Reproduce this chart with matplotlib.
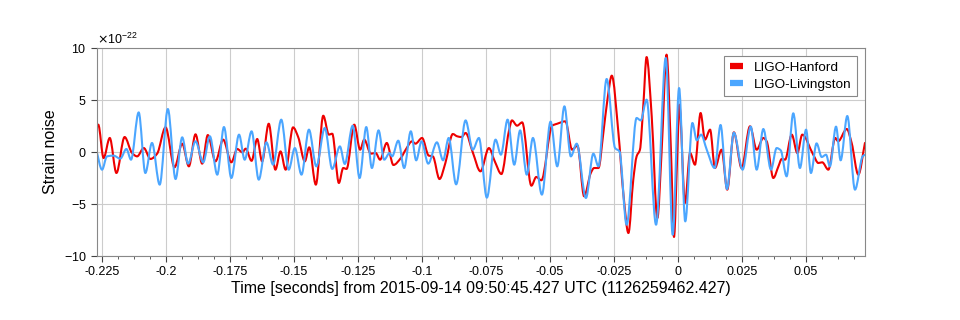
import matplotlib
matplotlib.use("Agg")
import matplotlib.pyplot as plt
from matplotlib.ticker import MultipleLocator, ScalarFormatter, FuncFormatter
from matplotlib.path import Path
from matplotlib.patches import PathPatch
from matplotlib.lines import Line2D
import numpy as np

plt.rcParams['font.family'] = ['Liberation Sans', 'DejaVu Sans']
plt.rcParams['axes.unicode_minus'] = False

# time in ms from 1126259462.427, strain in units of 1e-22
hanford_t = [-227.3, -226.5, -224.4, -222.0, -219.4, -216.2, -213.3, -211.3, -208.7, -206.1,
             -203.5, -200.2, -196.7, -193.7, -191.1, -188.5, -185.9, -183.7, -180.7, -177.7,
             -174.5, -172.2, -170.2, -168.9, -166.6, -164.4, -162.5, -159.9, -157.3, -155.3,
             -153.3, -150.4, -148.4, -145.8, -144.1, -141.5, -138.6, -136.4, -135.1, -132.5,
             -130.8, -129.5, -126.5, -124.2, -122.6, -120.0, -118.1, -116.4, -113.8, -111.2,
             -108.3, -106.4, -103.9, -102.6, -100.0, -97.4, -95.8, -93.2, -90.9, -88.0,
             -86.3, -84.6, -83.0, -80.2, -77.2, -73.9, -71.6, -69.0, -66.1, -64.9,
             -62.9, -60.9, -57.3, -55.4, -53.4, -49.2, -47.2, -44.0, -41.4, -39.3,
             -36.7, -34.1, -32.8, -31.1, -29.2, -27.6, -25.9, -23.3, -21.4, -19.4,
             -17.5, -16.2, -14.9, -13.6, -12.3, -10.3, -8.1, -6.4, -4.5, -2.8,
             -1.6, -0.3, 0.5, 2.7, 4.7, 6.6, 8.8, 10.5, 12.5, 14.4,
             17.0, 19.2, 21.8, 24.8, 28.1, 30.7, 33.3, 34.6, 37.2, 39.2,
             40.5, 41.8, 44.4, 46.6, 48.5, 52.8, 54.8, 56.3, 58.7, 61.4,
             62.5, 65.9, 67.8, 70.4, 73.0]
hanford_h = [2.53, 2.63, -0.58, 1.35, -2.02, 1.44, -0.10, -0.42, 0.38, -0.67,
             -0.16, 2.37, -1.47, 0.80, -1.38, 1.70, -1.12, 1.63, -0.90, 1.19,
             -0.99, 0.29, -0.03, 0.32, -0.85, 1.25, -0.90, 2.72, -1.70, 0.06,
             -1.70, 2.37, 1.44, -0.90, 0.45, -3.14, 3.49, 1.67, 1.76, -2.98,
             -1.54, -1.63, 2.63, 0.22, 1.19, -0.16, -0.10, -0.74, 0.87, -1.25,
             -0.58, 0.22, 1.03, 0.80, 1.35, -0.35, -0.42, -2.60, -1.06, 1.73,
             1.51, 1.44, 1.83, -0.03, -1.86, 0.38, -0.90, -2.12, 1.99, 3.04,
             2.53, 2.85, -3.24, -2.40, -2.72, 2.53, 2.72, 2.95, 0.22, 0.61,
             -4.26, -2.02, -1.54, -1.54, 1.83, 5.03, 7.34, 1.83, -3.94, -7.79,
             -2.66, -0.42, 0.22, 4.39, 9.13, 3.43, -6.35, 0.22, 9.36, 0.22,
             -8.17, -0.10, 4.55, -4.90, -0.10, -1.22, 3.75, 1.19, 2.15, -1.54,
             0.22, -3.62, 1.89, -1.54, 2.47, 0.22, 1.35, 1.03, -2.50, -1.38,
             -0.67, -0.74, 1.67, -0.10, 1.67, -0.26, -1.06, -0.99, -1.70, 1.35,
             1.03, 2.21, 0.87, -2.18, 0.87]

livingston_t = [-227.3, -225.0, -223.1, -220.5, -217.9, -215.5, -213.7, -210.7, -208.1, -205.5,
                -202.5, -199.3, -196.3, -193.7, -191.4, -188.5, -185.5, -182.9, -180.0, -177.4,
                -174.5, -171.5, -169.3, -166.6, -163.8, -160.8, -158.2, -155.0, -152.1, -149.7,
                -147.1, -144.2, -141.3, -138.0, -135.1, -132.1, -130.2, -127.1, -124.4, -121.8,
                -119.6, -117.0, -114.8, -112.7, -111.7, -109.3, -107.0, -104.4, -102.3, -100.2,
                -97.6, -94.2, -91.8, -89.6, -86.7, -83.0, -80.2, -77.8, -74.7, -71.3,
                -69.2, -66.6, -64.0, -61.7, -59.1, -56.7, -53.2, -49.8, -47.2, -44.4,
                -41.9, -39.6, -36.0, -33.1, -31.1, -27.9, -24.6, -22.9, -20.1, -16.2,
                -14.6, -12.3, -8.6, -4.8, -2.1, 0.4, 2.8, 5.6, 7.3, 9.0,
                11.2, 14.3, 16.6, 19.1, 21.8, 25.2, 28.4, 30.7, 33.3, 36.3,
                38.5, 40.1, 42.4, 45.0, 47.6, 50.0, 51.9, 54.1, 56.1, 57.8,
                59.3, 61.7, 63.5, 66.1, 69.1, 72.1, 73.0]
livingston_h = [0.22, -1.70, -0.42, -0.35, -0.64, 0.29, -0.74, 3.81, -2.02, 0.87,
                -3.14, 4.13, -2.60, 1.41, -1.12, 1.03, -1.00, 1.51, -2.18, 2.40,
                -2.50, 1.67, -0.74, 1.99, -2.66, 0.93, -1.22, 3.11, -1.70, 0.38,
                -2.18, 2.15, -1.38, 2.31, -1.63, 0.54, -1.15, 2.53, -2.50, 2.40,
                -1.54, 2.08, -0.74, -0.10, -0.42, 1.09, -1.54, 1.99, -0.80, 1.03,
                -1.12, 0.93, -0.80, 1.35, -3.11, 3.04, 0.22, 1.35, -4.39, 1.19,
                -0.26, 3.11, -1.22, 2.08, -2.18, 1.35, -4.10, 2.92, -1.38, 4.39,
                -0.42, 0.80, -4.42, -0.16, -1.38, 7.02, 0.38, 0.06, -6.99, 3.27,
                3.04, 5.03, -6.99, 9.04, -7.95, 6.15, -6.67, 2.79, 1.12, 1.67,
                0.22, -1.54, 2.60, -3.56, 1.86, -1.70, 2.44, -1.70, 2.21, -1.70,
                0.38, 0.16, -2.34, 3.72, -1.54, 2.15, -2.02, 0.83, -0.48, -0.26,
                -1.38, 2.44, -0.80, 3.46, -3.62, -0.42, -0.26]

H_COLOR = '#ee0000'
L_COLOR = '#4ba6ff'


def smooth_path(x, y):
    # monotone cubic (pchip) tangents, drawn as bezier segments through the points
    x = np.asarray(x, float)
    y = np.asarray(y, float)
    h = np.diff(x)
    d = np.diff(y) / h
    m = np.zeros_like(y)
    m[0], m[-1] = d[0], d[-1]
    for k in range(1, len(y) - 1):
        if d[k - 1] * d[k] > 0:
            w1 = 2 * h[k] + h[k - 1]
            w2 = h[k] + 2 * h[k - 1]
            m[k] = (w1 + w2) / (w1 / d[k - 1] + w2 / d[k])
    verts = [(x[0], y[0])]
    codes = [Path.MOVETO]
    for k in range(len(h)):
        verts += [(x[k] + h[k] / 3, y[k] + m[k] * h[k] / 3),
                  (x[k + 1] - h[k] / 3, y[k + 1] - m[k + 1] * h[k] / 3),
                  (x[k + 1], y[k + 1])]
        codes += [Path.CURVE4] * 3
    return Path(verts, codes)


fig = plt.figure(figsize=(9.6, 3.2), dpi=100)
ax = fig.add_axes([0.101, 0.2, 0.8, 0.65])

for tt, hh, col in [(hanford_t, hanford_h, H_COLOR), (livingston_t, livingston_h, L_COLOR)]:
    p = smooth_path(np.array(tt) / 1000, np.array(hh) * 1e-22)
    ax.add_patch(PathPatch(p, fill=False, edgecolor=col, lw=1.5, joinstyle='round',
                           capstyle='round'))

ax.set_xlim(-0.227, 0.073)
ax.set_ylim(-1e-21, 1e-21)

ax.xaxis.set_major_locator(MultipleLocator(0.025))
ax.xaxis.set_minor_locator(MultipleLocator(0.00625))
ax.xaxis.set_major_formatter(FuncFormatter(
    lambda x, pos: '0' if abs(x) < 1e-9 else '%g' % round(x, 6)))
ax.yaxis.set_major_locator(MultipleLocator(5e-22))
fmt = ScalarFormatter(useMathText=True)
fmt.set_powerlimits((-22, -22))
ax.yaxis.set_major_formatter(fmt)

ax.tick_params(axis='both', which='major', direction='out', length=4, width=0.8,
               labelsize=9, color='#444444')
ax.tick_params(axis='x', which='minor', direction='out', length=2, width=0.6, color='#444444')
ax.yaxis.get_offset_text().set_fontsize(9)

for s in ax.spines.values():
    s.set_color('#888888')
    s.set_linewidth(0.8)

ax.grid(True, which='major', color='#cccccc', lw=0.8)
ax.set_axisbelow(True)

ax.set_xlabel('Time [seconds] from 2015-09-14 09:50:45.427 UTC (1126259462.427)',
              fontsize=11.5, labelpad=2)
ax.set_ylabel('Strain noise', fontsize=11.5)

handles = [Line2D([], [], color=H_COLOR, lw=4.5, solid_capstyle='butt'),
           Line2D([], [], color=L_COLOR, lw=4.5, solid_capstyle='butt')]
leg = ax.legend(handles, ['LIGO-Hanford', 'LIGO-Livingston'], loc='upper right',
                fontsize=9.7, fancybox=False, framealpha=1, edgecolor='#888888',
                handlelength=1.0, handletextpad=0.8, borderaxespad=0.6, labelspacing=0.35)
leg.get_frame().set_linewidth(0.8)

fig.savefig('out.png', dpi=100)
